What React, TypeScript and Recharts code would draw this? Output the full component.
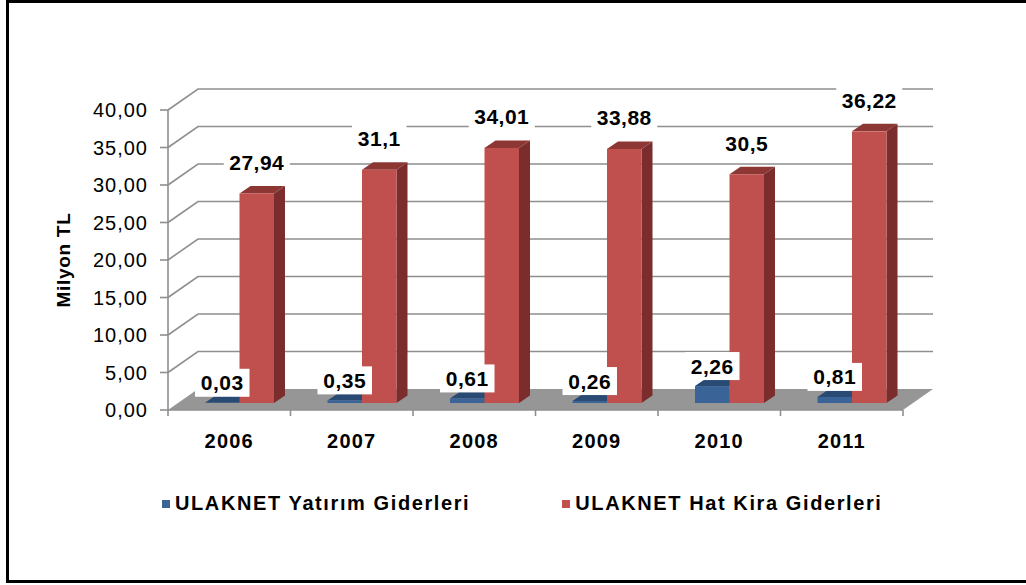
import { BarChart, Bar, XAxis, YAxis, CartesianGrid, Legend, LabelList } from 'recharts';

const years = ['2006', '2007', '2008', '2009', '2010', '2011'];
const yatirimGiderleri = [0.03, 0.35, 0.61, 0.26, 2.26, 0.81];
const hatKiraGiderleri = [27.94, 31.1, 34.01, 33.88, 30.5, 36.22];
const yTicks = [0, 5, 10, 15, 20, 25, 30, 35, 40];
const seriesOrder = ['yatirim', 'hatKira'];

const data = years.map((year, i) => ({
  year,
  yatirim: yatirimGiderleri[i],
  hatKira: hatKiraGiderleri[i],
}));

const FONT = '"Liberation Sans", Arial, sans-serif';
const GRID = '#8f8f8f';
const BLUE = { front: '#3a6498', top: '#294a73', side: '#243f62' };
const RED = { front: '#c0504d', top: '#8c3734', side: '#7a2d2c' };

// depth of the back wall / floor, and of the bars
const WX = 30, WY = 21;
const DX = 10, DY = 7;
const SX = 11, SY = 7.5;

const fmt = (v: number) => String(v).replace('.', ',');

const gridLine = (p: any) => {
  const { x1, x2, y1, index } = p;
  const isFloor = p.y != null && p.height != null ? Math.abs(y1 - (p.y + p.height)) < 1 : index === 0;
  if (isFloor) {
    return (
      <polygon key={`floor-${index}`}
        points={`${x1},${y1} ${x2},${y1} ${x2 + WX},${y1 - WY} ${x1 + WX},${y1 - WY}`}
        fill="#969696" />
    );
  }
  return (
    <path key={`grid-${index}`}
      d={`M${x1},${y1} L${x1 + WX},${y1 - WY} L${x2 + WX},${y1 - WY}`}
      stroke={GRID} strokeWidth={1.6} fill="none" />
  );
};

const bar3d = (c: { front: string; top: string; side: string }) => (p: any) => {
  const { x, y, width, height } = p;
  if (x == null || width == null) return <g />;
  const fx = x + DX, fy = y - DY, w = width, h = Math.max(height, 0);
  return (
    <g>
      <polygon points={`${fx + w},${fy} ${fx + w + SX},${fy - SY} ${fx + w + SX},${fy + h - SY} ${fx + w},${fy + h}`} fill={c.side} />
      <polygon points={`${fx},${fy} ${fx + w},${fy} ${fx + w + SX},${fy - SY} ${fx + SX},${fy - SY}`} fill={c.top} />
      <rect x={fx} y={fy} width={w} height={h} fill={c.front} />
    </g>
  );
};

const labelBox = (cx: number, cy: number, value: number, key?: string) => {
  const text = fmt(value);
  const w = text.replace(',', '').length * 11.5 + 20;
  return (
    <g key={key}>
      <rect x={cx - w / 2} y={cy - 14} width={w} height={28} fill="#fff" />
      <text x={cx} y={cy} dy="0.36em" textAnchor="middle" fontFamily={FONT} fontWeight="bold"
        fontSize={21} letterSpacing={0.5} fill="#000">{text}</text>
    </g>
  );
};

// red bar labels, drawn after all bars
const redLabel = (p: any) => {
  const { x, y, width, value } = p;
  if (x == null) return null;
  return labelBox(Number(x) + Number(width) / 2 + DX, Number(y) - 38, Number(value));
};

// blue bar labels are drawn in the red bar's layer so they sit on top of the red bars;
// the blue bar's top comes from the red bar's own scale (bottom and px per unit)
const blueLabel = (p: any) => {
  const { x, y, width, height, index } = p;
  if (x == null) return null;
  const red = hatKiraGiderleri[index];
  const blue = yatirimGiderleri[index];
  const base = Number(y) + Number(height);
  const top = base - (blue / red) * Number(height);
  return labelBox(Number(x) - Number(width) / 2 + DX, top - 27, blue);
};

const XTick = (p: any) => {
  const { x, y, payload, index, visibleTicksCount } = p;
  const off = payload?.offset ?? 0;
  const axisY = y - 22;
  return (
    <g>
      <line x1={x - off} x2={x - off} y1={axisY} y2={axisY + 6} stroke={GRID} strokeWidth={1.6} />
      {index === visibleTicksCount - 1 && (
        <line x1={x + off} x2={x + off} y1={axisY} y2={axisY + 6} stroke={GRID} strokeWidth={1.6} />
      )}
      <text x={x} y={axisY + 38} textAnchor="middle" fontFamily={FONT} fontWeight="bold"
        fontSize={20} letterSpacing={1.2} fill="#000">{payload.value}</text>
    </g>
  );
};

const YTitle = (p: any) => {
  const vb = p.viewBox || { x: 40, y: 110, width: 128, height: 300 };
  const x = vb.x + 23;
  const y = vb.y + vb.height / 2;
  return (
    <text x={x} y={y} transform={`rotate(-90 ${x} ${y})`} textAnchor="middle" dy="0.36em"
      fontFamily={FONT} fontWeight="bold" fontSize={19} letterSpacing={0.7} fill="#000">Milyon TL</text>
  );
};

const LegendBox = (p: any) => {
  const items = [...(p.payload || [])].sort(
    (a: any, b: any) => seriesOrder.indexOf(a.dataKey) - seriesOrder.indexOf(b.dataKey));
  return (
    <div style={{ display: 'flex', alignItems: 'center', fontFamily: FONT, fontWeight: 'bold', fontSize: 20, letterSpacing: 1.6, color: '#000' }}>
      {items.map((e: any, i: number) => (
        <div key={i} style={{ display: 'flex', alignItems: 'center', marginRight: i === 0 ? 92 : 0 }}>
          <span style={{ display: 'inline-block', width: 8, height: 8, background: e.color, marginRight: 5 }} />
          <span>{e.value}</span>
        </div>
      ))}
    </div>
  );
};

export default function App() {
  return (
    <div style={{ position: 'absolute', left: 0, top: 0, width: 1026, height: 585, overflow: 'hidden', background: '#fff' }}>
      <div style={{ position: 'absolute', left: 6, top: 0, width: 1060, height: 583, border: '3px solid #000', boxSizing: 'border-box' }} />
      <div style={{ position: 'absolute', left: 0, top: 0 }}>
        <BarChart width={1026} height={585} data={data} barGap={0} barSize={34.5}
          margin={{ top: 110, right: 123, left: 40, bottom: 115 }}>
          <CartesianGrid vertical={false} horizontal={gridLine} />
          <XAxis dataKey="year" height={60} axisLine={{ stroke: GRID, strokeWidth: 1.6 }}
            tickLine={false} tickSize={0} tickMargin={22} tick={<XTick />} interval={0} />
          <YAxis domain={[0, 40]} ticks={yTicks} width={128} tickSize={8} tickMargin={12}
            axisLine={{ stroke: GRID, strokeWidth: 1.6 }} tickLine={{ stroke: GRID, strokeWidth: 1.6 }}
            tick={{ fill: '#000', fontSize: 20, fontFamily: FONT, letterSpacing: 1 }}
            tickFormatter={(v: number) => v.toFixed(2).replace('.', ',')}
            label={{ content: YTitle }} />
          <Legend layout="horizontal" verticalAlign="middle" align="center" content={LegendBox}
            wrapperStyle={{ top: 492, left: 162, width: 800 }} />
          <Bar dataKey="yatirim" name="ULAKNET Yatırım Giderleri" fill={BLUE.front}
            shape={bar3d(BLUE)} isAnimationActive={false} />
          <Bar dataKey="hatKira" name="ULAKNET Hat Kira Giderleri" fill={RED.front}
            shape={bar3d(RED)} isAnimationActive={false}>
            <LabelList dataKey="hatKira" content={redLabel} />
            <LabelList dataKey="hatKira" content={blueLabel} />
          </Bar>
        </BarChart>
      </div>
    </div>
  );
}
